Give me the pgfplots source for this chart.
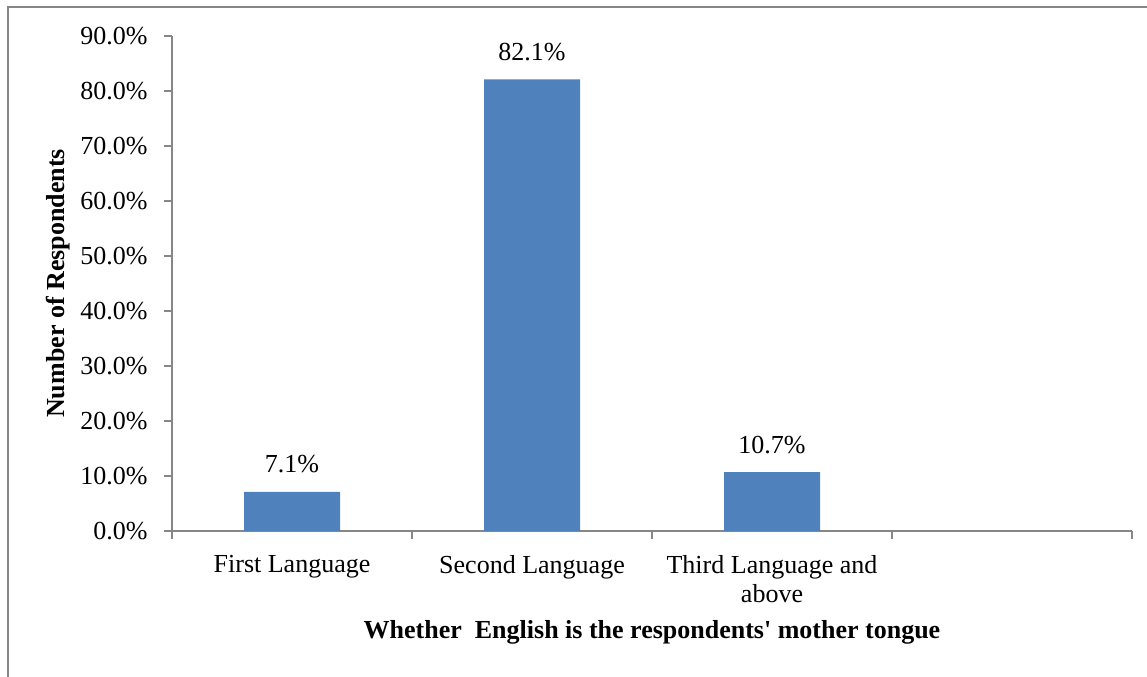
\documentclass[border=0pt]{standalone}
\usepackage{fontspec}
\setmainfont{Liberation Serif}
\usepackage{pgfplots}
\pgfplotsset{compat=1.18}
\definecolor{barblue}{RGB}{79,129,189}
\definecolor{axgray}{RGB}{134,134,134}
\begin{document}
\begin{tikzpicture}
\useasboundingbox (0,0) rectangle (1147bp,677bp);
\draw[axgray, line width=2bp] (8bp,-2bp) -- (8bp,670bp) -- (1150bp,670bp);
\begin{axis}[
  at={(172bp,146bp)}, anchor=south west,
  scale only axis, width=960bp, height=495bp,
  xmin=-0.5, xmax=3.5, ymin=0, ymax=90,
  axis x line=bottom, axis y line=left,
  axis line style={-, axgray, line width=1.5bp},
  xtick={-0.5,0.5,1.5,2.5,3.5},
  x tick label as interval,
  xticklabels={First Language, Second Language, {Third Language and\\above}, {}},
  xticklabel style={align=center, font=\fontsize{26bp}{29bp}\selectfont, yshift=-13bp},
  ytick={0,10,...,90},
  yticklabel={\pgfmathprintnumber[fixed,fixed zerofill,precision=1]{\tick}\%},
  yticklabel style={font=\fontsize{26bp}{29bp}\selectfont, xshift=-13bp},
  /pgf/number format/assume math mode=true,
  tick align=outside,
  major tick length=8bp,
  tick style={axgray, line width=1.5bp},
  xlabel={Whether~ English is the respondents\textquotesingle{} mother tongue},
  xlabel style={at={(axis description cs:0.5,-0.2162)}, anchor=base, font=\fontsize{26bp}{29bp}\selectfont\bfseries},
  ylabel={Number of Respondents},
  ylabel style={at={(axis description cs:-0.1115,0.5)}, anchor=base, font=\fontsize{26bp}{29bp}\selectfont\bfseries},
  nodes near coords={\pgfmathprintnumber[fixed,fixed zerofill,precision=1]{\pgfplotspointmeta}\%},
  every node near coord/.append style={font=\fontsize{26bp}{29bp}\selectfont, anchor=base, inner sep=0pt, yshift=19bp},
  clip=false,
]
\addplot[ybar, bar width=96bp, fill=barblue, draw=none] coordinates {(0,7.1) (1,82.1) (2,10.7)};
\end{axis}
\end{tikzpicture}
\end{document}
